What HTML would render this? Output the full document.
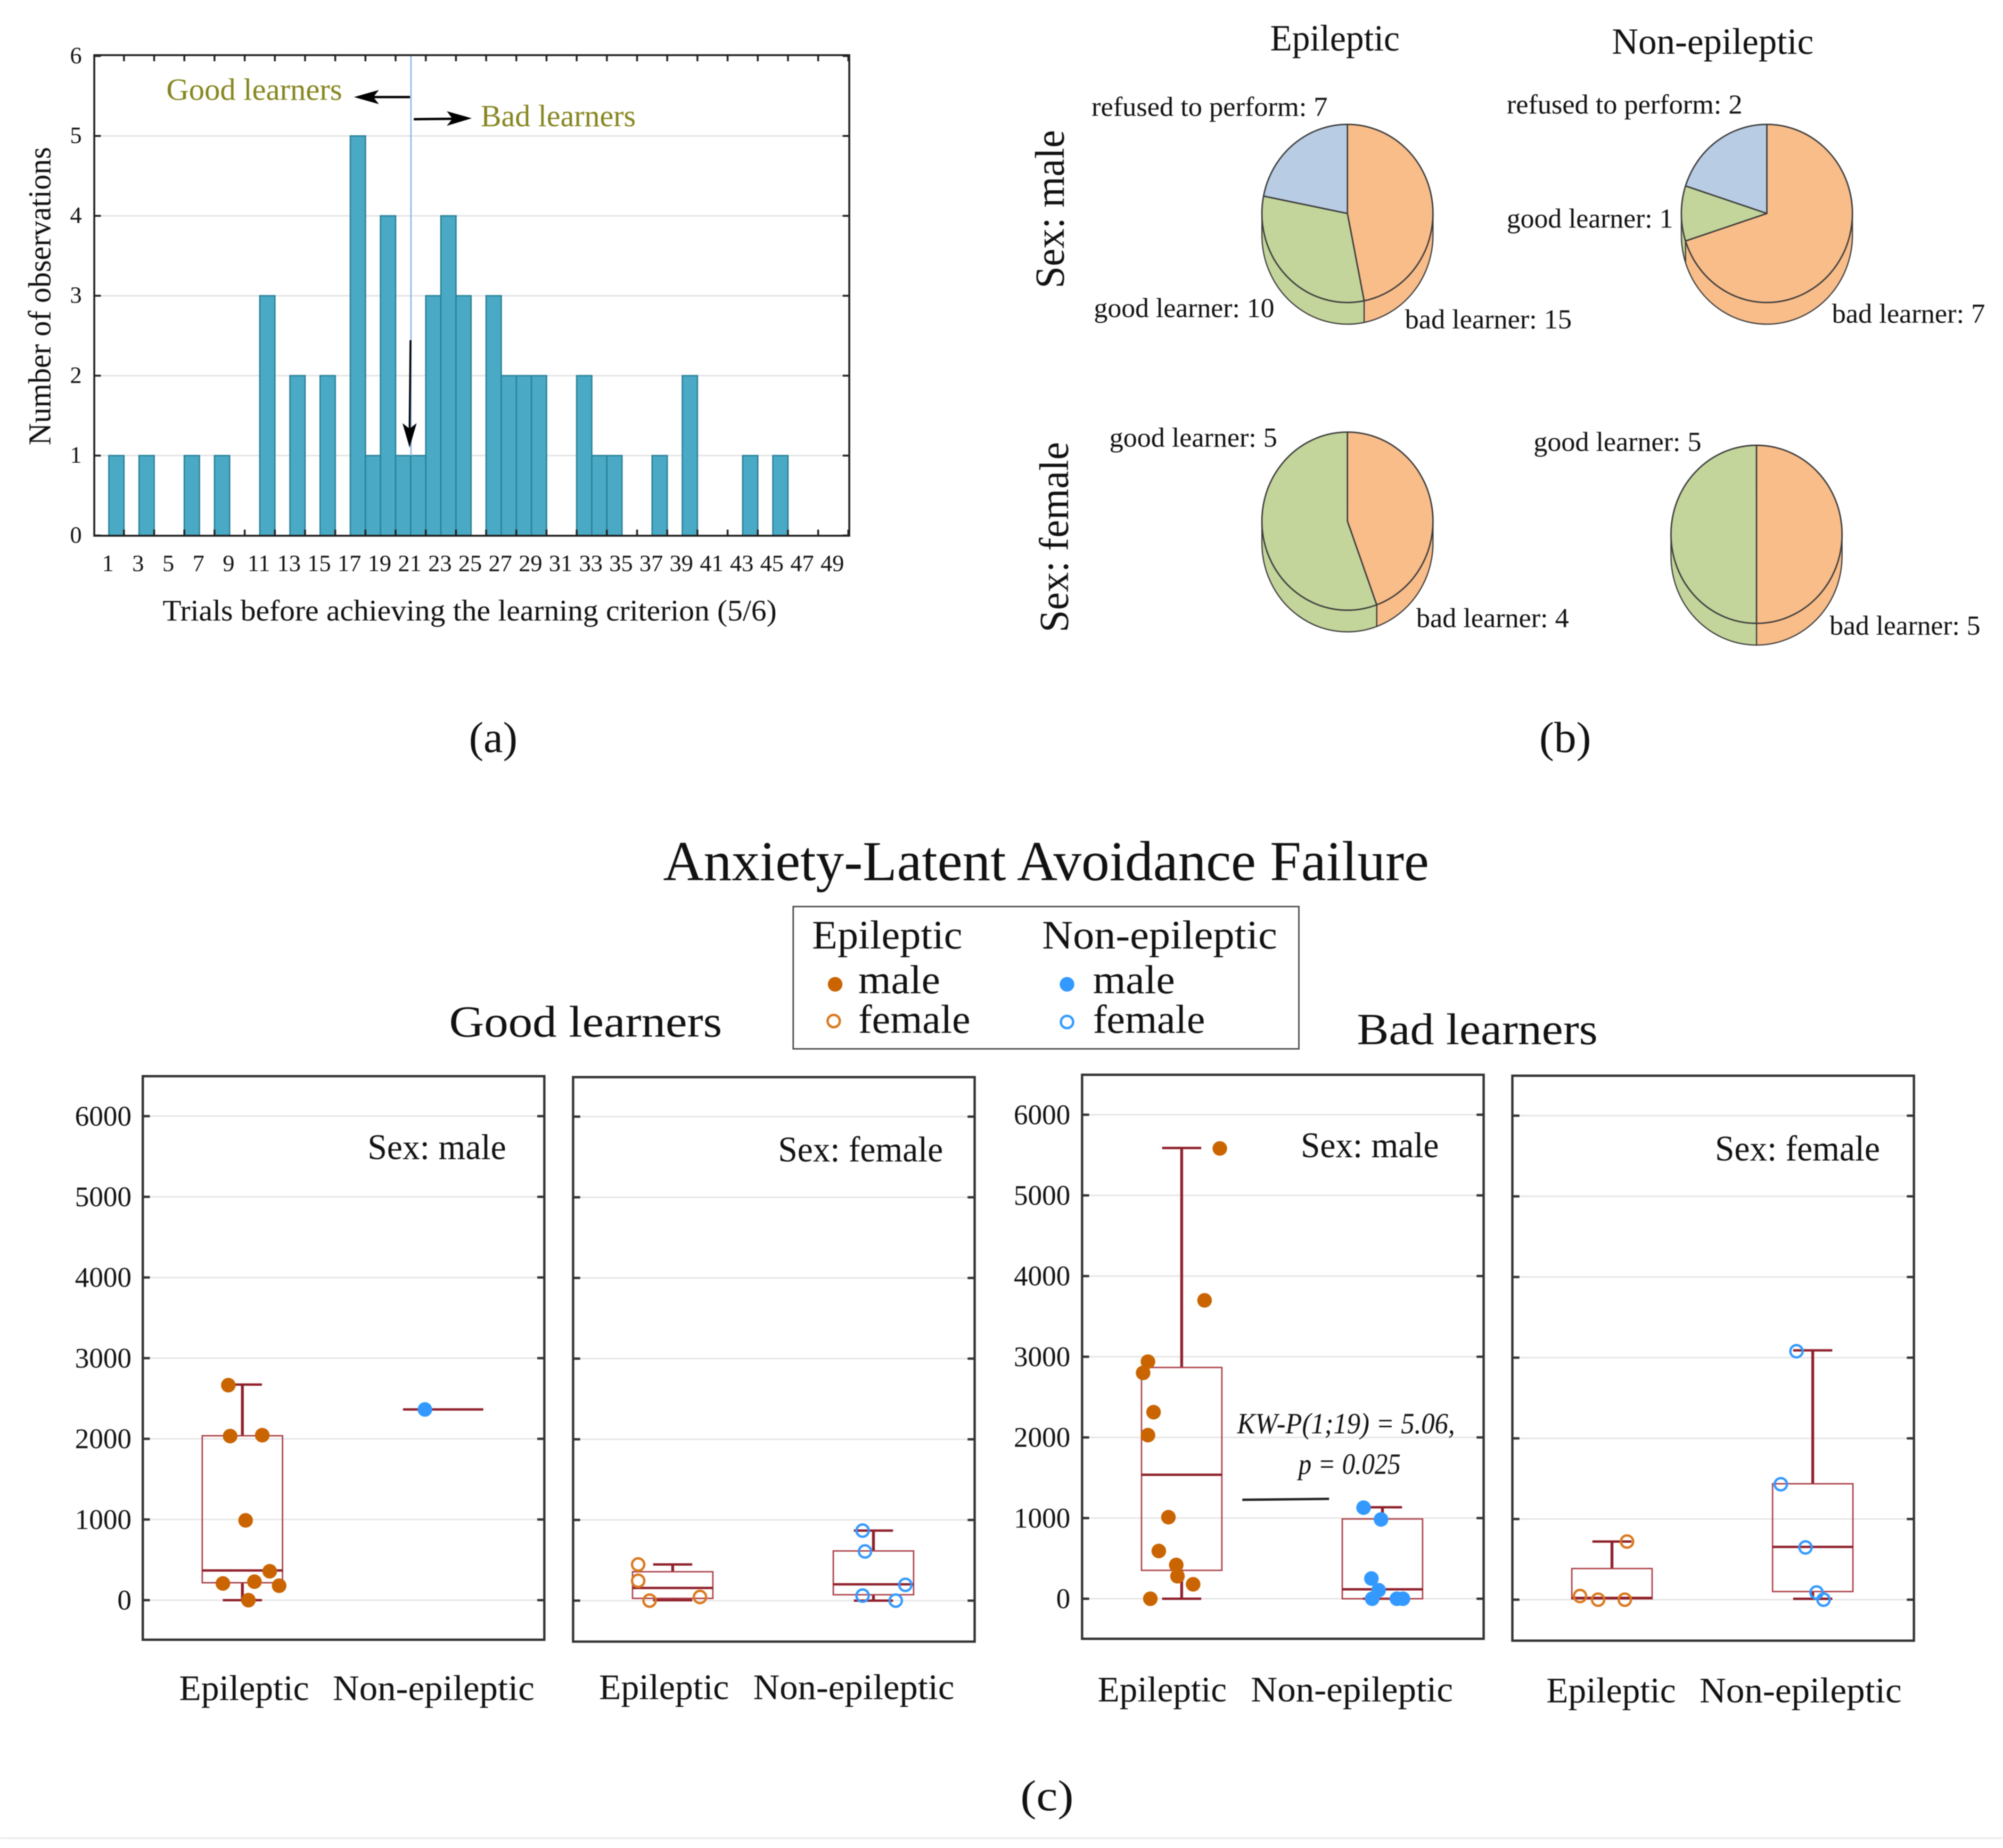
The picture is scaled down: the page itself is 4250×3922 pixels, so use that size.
<!DOCTYPE html>
<html lang="en">
<head>
<meta charset="utf-8">
<title>Anxiety-Latent Avoidance Failure</title>
<style>
html,body{margin:0;padding:0;background:#fff;}
svg{display:block;filter:blur(1.1px);}
text{font-family:"Liberation Serif",serif;fill:#111;}
</style>
</head>
<body>
<svg id="figure" xmlns="http://www.w3.org/2000/svg" width="4250" height="3922" viewBox="0 0 4250 3922">
<rect x="0" y="0" width="4250" height="3922" fill="#ffffff"/>

<g id="panel-a"></g>
<g>
  <line x1="872" y1="119" x2="872" y2="967" stroke="#8db6ea" stroke-width="3"/>
  <text x="353" y="212" font-size="66" textLength="373" lengthAdjust="spacingAndGlyphs" style="fill:#85851f">Good learners</text>
  <text x="1020" y="268" font-size="66" textLength="329" lengthAdjust="spacingAndGlyphs" style="fill:#85851f">Bad learners</text>
  <line x1="870" y1="206" x2="785" y2="206" stroke="#000" stroke-width="5"/>
  <polygon points="751,206 804,191 792,206 804,221" fill="#000"/>
  <line x1="878" y1="253" x2="970" y2="252" stroke="#000" stroke-width="5"/>
  <polygon points="1001,251 948,236 960,252 948,267" fill="#000"/>
  <line x1="871" y1="722" x2="869" y2="920" stroke="#000" stroke-width="4"/>
  <polygon points="869,950 854,898 869,910 884,898" fill="#000"/>
  <text x="345" y="1317" font-size="64" textLength="1303" lengthAdjust="spacingAndGlyphs">Trials before achieving the learning criterion (5/6)</text>
  <text transform="translate(107,945) rotate(-90)" font-size="68" textLength="633" lengthAdjust="spacingAndGlyphs">Number of observations</text>
  <text x="995" y="1596" font-size="92" textLength="103" lengthAdjust="spacingAndGlyphs">(a)</text>
</g>

<g id="panel-b"></g>
<g>
  <text x="2695" y="107" font-size="78" textLength="275" lengthAdjust="spacingAndGlyphs">Epileptic</text>
  <text x="3420" y="114" font-size="78" textLength="428" lengthAdjust="spacingAndGlyphs">Non-epileptic</text>
  <text transform="translate(2257,612) rotate(-90)" font-size="88" textLength="336" lengthAdjust="spacingAndGlyphs">Sex: male</text>
  <text transform="translate(2266,1342) rotate(-90)" font-size="88" textLength="404" lengthAdjust="spacingAndGlyphs">Sex: female</text>
  <text x="2316" y="246" font-size="58" textLength="501" lengthAdjust="spacingAndGlyphs">refused to perform: 7</text>
  <text x="3197" y="241" font-size="58" textLength="500" lengthAdjust="spacingAndGlyphs">refused to perform: 2</text>
  <text x="2321" y="673" font-size="58" textLength="383" lengthAdjust="spacingAndGlyphs">good learner: 10</text>
  <text x="2981" y="697" font-size="58" textLength="354" lengthAdjust="spacingAndGlyphs">bad learner: 15</text>
  <text x="3197" y="483" font-size="58" textLength="353" lengthAdjust="spacingAndGlyphs">good learner: 1</text>
  <text x="3887" y="685" font-size="58" textLength="325" lengthAdjust="spacingAndGlyphs">bad learner: 7</text>
  <text x="2354" y="948" font-size="58" textLength="356" lengthAdjust="spacingAndGlyphs">good learner: 5</text>
  <text x="3005" y="1331" font-size="58" textLength="324" lengthAdjust="spacingAndGlyphs">bad learner: 4</text>
  <text x="3254" y="957" font-size="58" textLength="356" lengthAdjust="spacingAndGlyphs">good learner: 5</text>
  <text x="3882" y="1347" font-size="58" textLength="320" lengthAdjust="spacingAndGlyphs">bad learner: 5</text>
  <text x="3266" y="1596" font-size="92" textLength="110" lengthAdjust="spacingAndGlyphs">(b)</text>
</g>

<g>
  <text x="1407" y="1868" font-size="120" textLength="1625" lengthAdjust="spacingAndGlyphs">Anxiety-Latent Avoidance Failure</text>
  <text x="953" y="2200" font-size="94" textLength="579" lengthAdjust="spacingAndGlyphs">Good learners</text>
  <text x="2879" y="2216" font-size="94" textLength="511" lengthAdjust="spacingAndGlyphs">Bad learners</text>
</g>
<g>
  <rect x="1683" y="1924" width="1073" height="302" fill="#fff" stroke="#444" stroke-width="3"/>
  <text x="1723" y="2013" font-size="86" textLength="319" lengthAdjust="spacingAndGlyphs">Epileptic</text>
  <text x="2211" y="2013" font-size="86" textLength="499" lengthAdjust="spacingAndGlyphs">Non-epileptic</text>
  <circle cx="1772" cy="2089" r="15.5" fill="#c96400"/>
  <text x="1821" y="2108" font-size="86" textLength="174" lengthAdjust="spacingAndGlyphs">male</text>
  <circle cx="1769" cy="2167" r="13" fill="none" stroke="#d9781c" stroke-width="5"/>
  <text x="1821" y="2192" font-size="86" textLength="238" lengthAdjust="spacingAndGlyphs">female</text>
  <circle cx="2264" cy="2089" r="15.5" fill="#3399ff"/>
  <text x="2319" y="2108" font-size="86" textLength="174" lengthAdjust="spacingAndGlyphs">male</text>
  <circle cx="2264" cy="2169" r="13" fill="none" stroke="#3399ff" stroke-width="5"/>
  <text x="2319" y="2192" font-size="86" textLength="238" lengthAdjust="spacingAndGlyphs">female</text>
</g>

<g id="panel-c"></g>
<g>
  <text x="780" y="2460" font-size="76" textLength="294" lengthAdjust="spacingAndGlyphs">Sex: male</text>
  <text x="1651" y="2465" font-size="76" textLength="350" lengthAdjust="spacingAndGlyphs">Sex: female</text>
  <text x="2760" y="2456" font-size="76" textLength="293" lengthAdjust="spacingAndGlyphs">Sex: male</text>
  <text x="3639" y="2463" font-size="76" textLength="350" lengthAdjust="spacingAndGlyphs">Sex: female</text>
  <text x="380" y="3608" font-size="76" textLength="276" lengthAdjust="spacingAndGlyphs">Epileptic</text>
  <text x="706" y="3608" font-size="76" textLength="428" lengthAdjust="spacingAndGlyphs">Non-epileptic</text>
  <text x="1271" y="3606" font-size="76" textLength="276" lengthAdjust="spacingAndGlyphs">Epileptic</text>
  <text x="1598" y="3606" font-size="76" textLength="427" lengthAdjust="spacingAndGlyphs">Non-epileptic</text>
  <text x="2329" y="3611" font-size="76" textLength="274" lengthAdjust="spacingAndGlyphs">Epileptic</text>
  <text x="2654" y="3611" font-size="76" textLength="429" lengthAdjust="spacingAndGlyphs">Non-epileptic</text>
  <text x="3281" y="3613" font-size="76" textLength="275" lengthAdjust="spacingAndGlyphs">Epileptic</text>
  <text x="3606" y="3613" font-size="76" textLength="429" lengthAdjust="spacingAndGlyphs">Non-epileptic</text>
  <text x="2625" y="3042" font-size="62" font-style="italic" textLength="462" lengthAdjust="spacingAndGlyphs">KW-P(1;19) = 5.06,</text>
  <text x="2755" y="3128" font-size="62" font-style="italic" textLength="217" lengthAdjust="spacingAndGlyphs">p = 0.025</text>
  <line x1="2636" y1="3183" x2="2820" y2="3181" stroke="#222" stroke-width="5"/>
  <text x="2165" y="3842" font-size="92" textLength="113" lengthAdjust="spacingAndGlyphs">(c)</text>
  <line x1="0" y1="3901" x2="4250" y2="3901" stroke="#e8e8e8" stroke-width="3"/>
</g>
</svg>

<script>
/* ---------- Histogram data ---------- */
const histTrials = [1,2,3,4,5,6,7,8,9,10,11,12,13,14,15,16,17,18,19,20,21,22,23,24,25,26,27,28,29,30,31,32,33,34,35,36,37,38,39,40,41,42,43,44,45,46,47,48,49];
const histCounts = [1,0,1,0,0,1,0,1,0,0,3,0,2,0,2,0,5,1,4,1,1,3,4,3,0,3,2,2,2,0,0,2,1,1,0,0,1,0,2,0,0,0,1,0,1,0,0,0,0];
const histXTickLabels = [1,3,5,7,9,11,13,15,17,19,21,23,25,27,29,31,33,35,37,39,41,43,45,47,49];
const histYTickLabels = [0,1,2,3,4,5,6];

/* ---------- Pie data: bad learner, good learner, refused to perform ---------- */
const pieEpilepticMale = [15,10,7];
const pieNonEpilepticMale = [7,1,2];
const pieEpilepticFemale = [4,5,0];
const pieNonEpilepticFemale = [5,5,0];

/* ---------- Box plot data: box arrays are [min, q1, median, q3, max] ---------- */
const yTickValues = [0,1000,2000,3000,4000,5000,6000];

const goodMaleEpBox = [0,216,368,2038,2672];
const goodMaleEpValues = [2665,2034,2045,989,358,229,207,179,0];
const goodMaleEpJitter = [-0.070,-0.061,0.099,0.016,0.136,0.060,-0.097,0.183,0.030];
const goodMaleNonBox = [2364,2364,2364,2364,2364];
const goodMaleNonValues = [2364];
const goodMaleNonJitter = [-0.091];

const goodFemaleEpBox = [5,28,157,358,448];
const goodFemaleEpValues = [448,246,0,45];
const goodFemaleEpJitter = [-0.172,-0.172,-0.115,0.136];
const goodFemaleNonBox = [0,73,202,616,868];
const goodFemaleNonValues = [868,610,196,62,0];
const goodFemaleNonJitter = [-0.054,-0.042,0.159,-0.054,0.111];

const badMaleEpBox = [0,352,1537,2867,5588];
const badMaleEpValues = [5582,3699,2939,2800,2313,2028,1011,592,419,279,179,0];
const badMaleEpJitter = [0.190,0.114,-0.168,-0.192,-0.140,-0.168,-0.066,-0.114,-0.027,-0.021,0.057,-0.156];
const badMaleNonBox = [0,0,117,989,1134];
const badMaleNonValues = [1129,983,251,106,0,0,0];
const badMaleNonJitter = [-0.094,-0.007,-0.055,-0.019,-0.051,0.072,0.102];

const badFemaleEpBox = [17,11,22,386,721];
const badFemaleEpValues = [721,45,0,0];
const badFemaleEpJitter = [0.075,-0.159,-0.069,0.064];
const badFemaleNonBox = [11,101,654,1437,3091];
const badFemaleNonValues = [3080,1431,648,89,0];
const badFemaleNonJitter = [-0.081,-0.159,-0.036,0.019,0.054];

const SVGNS = 'http://www.w3.org/2000/svg';
function mk(parent, tag, attrs, content) {
  const el = document.createElementNS(SVGNS, tag);
  for (const k in attrs) el.setAttribute(k, attrs[k]);
  if (content !== undefined) el.textContent = content;
  parent.appendChild(el);
  return el;
}

/* ---------- Panel (a): histogram ---------- */
(function () {
  const g = document.getElementById('panel-a');
  const L = 200, R = 1802, T = 117, B = 1137;
  const x = t => 199 + 32.02 * t;
  const y = v => 1136.5 - 169.6 * v;

  histYTickLabels.forEach(v => {
    if (v > 0 && v < 6) {
      const grid = mk(g, 'line', {x1: L, y1: y(v), x2: R, y2: y(v), stroke: '#e2e2e2', 'stroke-width': 3});
      
      
    }
    const label = mk(g, 'text', {x: 161, y: y(v) + 15, 'font-size': 50, 'text-anchor': 'middle'}, String(v));
    
    
    [[L, L + 14], [R - 14, R]].forEach(p => {
      const tick = mk(g, 'line', {x1: p[0], y1: y(v), x2: p[1], y2: y(v), stroke: '#222', 'stroke-width': 4});
      
      
    });
  });

  histTrials.forEach((t, i) => {
    const c = histCounts[i];
    if (c <= 0) return;
    const bar = mk(g, 'rect', {x: x(t), y: y(c), width: x(t + 1) - x(t), height: y(0) - y(c), fill: '#4aaac6', stroke: '#2b8299', 'stroke-width': 3});
    
    
  });

  histXTickLabels.forEach(t => {
    const label = mk(g, 'text', {x: x(t) - 2, y: 1212, 'font-size': 50, 'text-anchor': 'middle'}, String(t));
    
    
    [[T, T + 13], [B - 13, B]].forEach(p => {
      const tick = mk(g, 'line', {x1: x(t + 1), y1: p[0], x2: x(t + 1), y2: p[1], stroke: '#222', 'stroke-width': 4});
      
      
    });
  });

  const frame = mk(g, 'rect', {x: L, y: T, width: R - L, height: B - T, fill: 'none', stroke: '#222', 'stroke-width': 4});
  
  
})();

/* ---------- Panel (b): pies ---------- */
(function () {
  const g = document.getElementById('panel-b');
  const colors = ['#f9bd8a', '#c3d59b', '#b8cce4'];
  const sliceNames = ['bad-learner-slice', 'good-learner-slice', 'refused-slice'];
  const stroke = '#3a3a3a';
  const pies = [
    {values: pieEpilepticMale, cx: 2859, cy: 453, name: 'pie-epileptic-male'},
    {values: pieNonEpilepticMale, cx: 3749, cy: 453, name: 'pie-non-epileptic-male'},
    {values: pieEpilepticFemale, cx: 2859, cy: 1106, name: 'pie-epileptic-female'},
    {values: pieNonEpilepticFemale, cx: 3727, cy: 1134, name: 'pie-non-epileptic-female'}
  ];
  const rx = 181.5, ry = 189, depth = 46;

  pies.forEach(p => {
    const pg = mk(g, 'g', {});
    
    
    const total = p.values.reduce((a, b) => a + b, 0);
    const pt = a => [p.cx + rx * Math.sin(a), p.cy - ry * Math.cos(a)];
    const arcs = [];
    let acc = 0;
    p.values.forEach((v, i) => {
      const a0 = acc / total * 2 * Math.PI;
      acc += v;
      const a1 = acc / total * 2 * Math.PI;
      if (v > 0) arcs.push({a0: a0, a1: a1, i: i});
    });
    arcs.forEach(s => {
      const s0 = Math.max(s.a0, Math.PI / 2), s1 = Math.min(s.a1, 3 * Math.PI / 2);
      if (s1 <= s0) return;
      const a = pt(s0), b = pt(s1);
      const d = 'M' + a[0] + ' ' + a[1] + ' A' + rx + ' ' + ry + ' 0 0 1 ' + b[0] + ' ' + b[1] +
        ' L' + b[0] + ' ' + (b[1] + depth) + ' A' + rx + ' ' + ry + ' 0 0 0 ' + a[0] + ' ' + (a[1] + depth) + ' Z';
      const side = mk(pg, 'path', {d: d, fill: colors[s.i], stroke: stroke, 'stroke-width': 2.5});
      
      
    });
    arcs.forEach(s => {
      const a = pt(s.a0), b = pt(s.a1 - 1e-4);
      const large = (s.a1 - s.a0) > Math.PI ? 1 : 0;
      const d = 'M' + p.cx + ' ' + p.cy + ' L' + a[0] + ' ' + a[1] + ' A' + rx + ' ' + ry + ' 0 ' + large + ' 1 ' + b[0] + ' ' + b[1] + ' Z';
      const slice = mk(pg, 'path', {d: d, fill: colors[s.i], stroke: stroke, 'stroke-width': 3, 'stroke-linejoin': 'round'});
      
      
    });
  });
})();

/* ---------- Panel (c): box plots ---------- */
(function () {
  const g = document.getElementById('panel-c');
  const ORANGE = '#c96400', ORANGE_OPEN = '#d9781c', BLUE = '#3399ff';
  const panels = [
    {name: 'good-male', l: 303, r: 1155, t: 2284, b: 3480, y0: 3396, labels: 279, filled: true,
     groups: [[goodMaleEpBox, goodMaleEpValues, goodMaleEpJitter], [goodMaleNonBox, goodMaleNonValues, goodMaleNonJitter]]},
    {name: 'good-female', l: 1216, r: 2068, t: 2286, b: 3484, y0: 3397, filled: false,
     groups: [[goodFemaleEpBox, goodFemaleEpValues, goodFemaleEpJitter], [goodFemaleNonBox, goodFemaleNonValues, goodFemaleNonJitter]]},
    {name: 'bad-male', l: 2296, r: 3148, t: 2281, b: 3478, y0: 3393, labels: 2271, filled: true,
     groups: [[badMaleEpBox, badMaleEpValues, badMaleEpJitter], [badMaleNonBox, badMaleNonValues, badMaleNonJitter]]},
    {name: 'bad-female', l: 3209, r: 4061, t: 2283, b: 3482, y0: 3395, filled: false,
     groups: [[badFemaleEpBox, badFemaleEpValues, badFemaleEpJitter], [badFemaleNonBox, badFemaleNonValues, badFemaleNonJitter]]}
  ];
  const K = 0.1712;

  panels.forEach(p => {
    const pg = mk(g, 'g', {});
    
    
    const w = p.r - p.l;
    const y = v => p.y0 - K * v;
    const xc = c => p.l + w * (0.248 + 0.5 * c);
    const unit = w * 0.5;

    yTickValues.forEach(v => {
      const grid = mk(pg, 'line', {x1: p.l, y1: y(v), x2: p.r, y2: y(v), stroke: '#e4e4e4', 'stroke-width': 3});
      
      
      [[p.l, p.l + 15], [p.r - 15, p.r]].forEach(q => {
        const tick = mk(pg, 'line', {x1: q[0], y1: y(v), x2: q[1], y2: y(v), stroke: '#333', 'stroke-width': 5});
        
        
      });
      if (p.labels) {
        const label = mk(pg, 'text', {x: p.labels, y: y(v) + 20, 'font-size': 60, 'text-anchor': 'end'}, String(v));
        
        
      }
    });

    const frame = mk(pg, 'rect', {x: p.l, y: p.t, width: w, height: p.b - p.t, fill: 'none', stroke: '#333', 'stroke-width': 5});
    
    

    p.groups.forEach((grp, c) => {
      const box = grp[0], vals = grp[1], jit = grp[2];
      const cx = xc(c), hw = unit * 0.2, capw = unit * 0.0975;
      const dark = '#8e1f2a';
      const hasWhiskers = box[4] !== box[3] || box[0] !== box[1];
      if (hasWhiskers) {
        const upper = mk(pg, 'line', {x1: cx, y1: y(box[3]), x2: cx, y2: y(box[4]), stroke: dark, 'stroke-width': 6});
        
        
        const lower = mk(pg, 'line', {x1: cx, y1: y(box[1]), x2: cx, y2: y(box[0]), stroke: dark, 'stroke-width': 6});
        
        
        const capHi = mk(pg, 'line', {x1: cx - capw, y1: y(box[4]), x2: cx + capw, y2: y(box[4]), stroke: dark, 'stroke-width': 5});
        
        
        const capLo = mk(pg, 'line', {x1: cx - capw, y1: y(box[0]), x2: cx + capw, y2: y(box[0]), stroke: dark, 'stroke-width': 5});
        
        
      }
      const rect = mk(pg, 'rect', {x: cx - hw, y: y(box[3]), width: 2 * hw, height: y(box[1]) - y(box[3]), fill: 'none', stroke: '#ab4048', 'stroke-width': 3});
      
      
      const med = mk(pg, 'line', {x1: cx - hw, y1: y(box[2]), x2: cx + hw, y2: y(box[2]), stroke: dark, 'stroke-width': 5});
      
      

      vals.forEach((v, i) => {
        const px = cx + jit[i] * unit, py = y(v);
        const color = c === 0 ? (p.filled ? ORANGE : ORANGE_OPEN) : BLUE;
        const dot = mk(pg, 'circle', p.filled
          ? {cx: px, cy: py, r: 15.5, fill: color}
          : {cx: px, cy: py, r: 13, fill: 'none', stroke: color, 'stroke-width': 5});
        
        
      });
    });
  });
})();
</script>
</body>
</html>
